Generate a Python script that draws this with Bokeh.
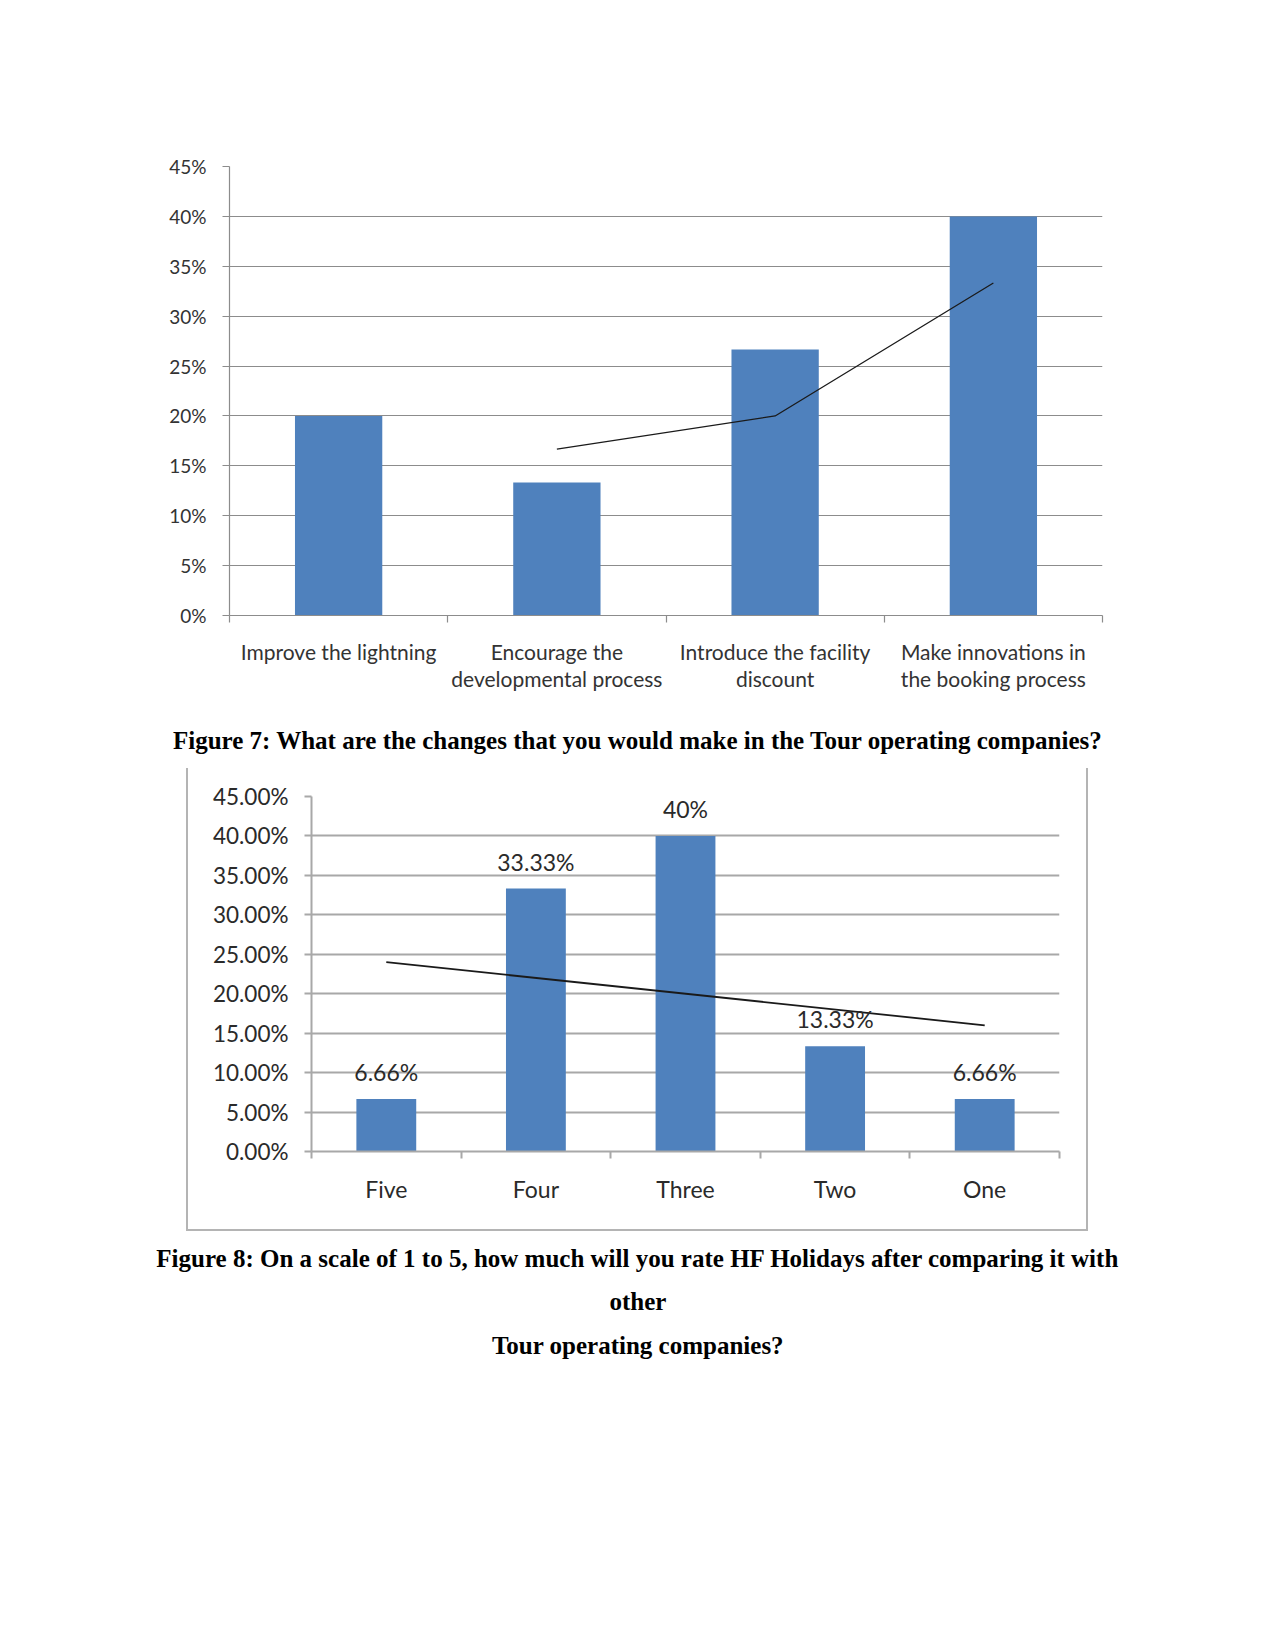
from bokeh.plotting import figure
from bokeh.models import (Range1d, FixedTicker, LinearAxis, ColumnDataSource, LabelSet, Label)
from bokeh.core.properties import value
from bokeh.embed import file_html
from bokeh.resources import INLINE

# ---------------- data ----------------
changes = ["Improve the lightning", "Encourage the\ndevelopmental process",
           "Introduce the facility\ndiscount", "Make innovations in\nthe booking process"]
change_pct = [20.0, 13.33, 26.67, 40.0]
change_trend_idx = [1, 2, 3]                 # categories where the trendline is drawn
change_trend = [16.67, 20.0, 33.33]          # 2-period moving average trendline
y1_ticks = [0, 5, 10, 15, 20, 25, 30, 35, 40, 45]
y1_labels = ["0%", "5%", "10%", "15%", "20%", "25%", "30%", "35%", "40%", "45%"]

ratings = ["Five", "Four", "Three", "Two", "One"]
rating_pct = [6.66, 33.33, 40.0, 13.33, 6.66]
rating_text = ["6.66%", "33.33%", "40%", "13.33%", "6.66%"]
rating_trend_idx = [0, 4]
rating_trend = [24.0, 16.0]                   # linear trendline ends
y2_ticks = [0, 5, 10, 15, 20, 25, 30, 35, 40, 45]
y2_labels = ["0.00%", "5.00%", "10.00%", "15.00%", "20.00%", "25.00%",
             "30.00%", "35.00%", "40.00%", "45.00%"]

caption1 = "Figure 7: What are the changes that you would make in the Tour operating companies?"
caption2 = ["Figure 8: On a scale of 1 to 5, how much will you rate HF Holidays after comparing it with",
            "other", "Tour operating companies?"]

BAR = "#4F81BD"
FONT = "Lato"
TXT = "#333333"
TXT2 = "#2a2a2a"
SERIF = "Liberation Serif"


def bar_chart(cats, vals, yticks, ylabels, width, height, mb, grid_color, grid_w,
              yfont, xfont, standoff_cat, txt):
    n = len(cats)
    idx = list(range(n))
    p = figure(x_range=Range1d(-0.5, n - 0.5), y_range=Range1d(0, 45),
               width=width, height=height, output_backend="svg", toolbar_location=None,
               x_axis_location=None, min_border_left=mb[0], min_border_right=mb[1],
               min_border_top=mb[2], min_border_bottom=mb[3])
    p.outline_line_color = None
    p.background_fill_color = "white"
    p.border_fill_color = "white"
    p.vbar(x=idx, top=vals, width=0.4, fill_color=BAR, line_color=None)

    ya = p.yaxis[0]
    ya.ticker = FixedTicker(ticks=yticks)
    ya.major_label_overrides = {t: l for t, l in zip(yticks, ylabels)}
    ya.axis_line_color = grid_color
    ya.axis_line_width = grid_w
    ya.major_tick_line_color = grid_color
    ya.major_tick_line_width = grid_w
    ya.major_tick_out = 7
    ya.major_tick_in = 0
    ya.minor_tick_line_color = None
    ya.major_label_standoff = 16
    ya.major_label_text_font = FONT
    ya.major_label_text_font_size = yfont
    ya.major_label_text_color = txt
    p.ygrid.grid_line_color = grid_color
    p.ygrid.grid_line_width = grid_w
    p.xgrid.grid_line_color = None

    # category labels at centres, tick marks (minor ticks) at category boundaries
    xa = LinearAxis(ticker=FixedTicker(ticks=idx, minor_ticks=[i - 0.5 for i in range(n + 1)]),
                    major_label_overrides={i: c for i, c in zip(idx, cats)},
                    axis_line_color=grid_color, axis_line_width=grid_w,
                    major_tick_line_color=None, major_tick_out=7, major_tick_in=0,
                    minor_tick_line_color=grid_color, minor_tick_line_width=grid_w,
                    minor_tick_out=7, minor_tick_in=0,
                    major_label_standoff=standoff_cat,
                    major_label_text_font=FONT, major_label_text_font_size=xfont,
                    major_label_text_color=txt, major_label_text_line_height=1.1)
    p.add_layout(xa, "below")
    return p


def caption_fig(lines, ys, height):
    c = figure(width=1275, height=height, x_range=Range1d(0, 1), y_range=Range1d(0, 1),
               output_backend="svg", toolbar_location=None,
               min_border_left=0, min_border_right=0, min_border_top=0, min_border_bottom=0,
               x_axis_location=None, y_axis_location=None)
    c.outline_line_color = None
    c.xgrid.grid_line_color = None
    c.ygrid.grid_line_color = None
    for line, yy in zip(lines, ys):
        c.add_layout(Label(x=0.5, y=yy, text=line, text_align="center", text_baseline="middle",
                           text_font=SERIF, text_font_style="bold", text_font_size="25px",
                           text_color="black"))
    return c


# ---------------- Figure 7 chart ----------------
p1 = bar_chart(changes, change_pct, y1_ticks, y1_labels, 1259, 710, (229, 157, 166, 95),
               "#8c8c8c", 1.2, "19px", "21px", 16, TXT)
p1.line(x=change_trend_idx, y=change_trend, line_color="#1a1a1a", line_width=1.3)

c1 = caption_fig([caption1], [0.483], 58)

# ---------------- Figure 8 chart ----------------
p2 = bar_chart(ratings, rating_pct, y2_ticks, y2_labels, 902, 463, (123, 31, 28, 80),
               "#a8a8a8", 2, "22.5px", "23px", 16, TXT2)
p2.line(x=rating_trend_idx, y=rating_trend, line_color="#1a1a1a", line_width=1.8)
src = ColumnDataSource(dict(x=list(range(len(ratings))), y=rating_pct, t=rating_text))
p2.add_layout(LabelSet(x="x", y="y", text="t", source=src, y_offset=27, text_align="center",
                       text_baseline="middle", text_font=value(FONT), text_font_size=value("23px"),
                       text_color=TXT2))
p2.margin = (0, 0, 0, 186)
p2.styles = {"border-left": "2px solid #b4b4b4", "border-right": "2px solid #b4b4b4",
             "border-bottom": "2px solid #b4b4b4"}

c2 = caption_fig(caption2, [0.82, 0.533, 0.243], 150)

open("out.html", "w").write(file_html([p1, c1, p2, c2], INLINE))
